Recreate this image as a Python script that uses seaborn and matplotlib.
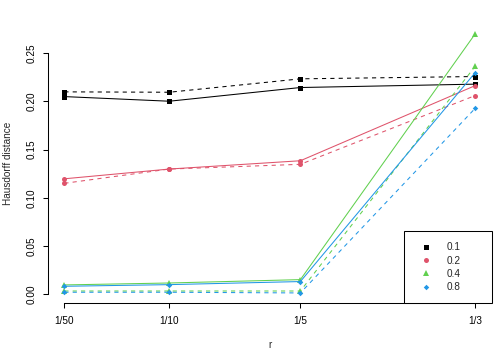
import matplotlib
matplotlib.use("Agg")
import matplotlib.pyplot as plt
from matplotlib.lines import Line2D
import seaborn as sns
import pandas as pd
import numpy as np

# ---- data ----
r_labels = ["1/50", "1/10", "1/5", "1/3"]
r_values = [1/50, 1/10, 1/5, 1/3]
groups = ["0.1", "0.2", "0.4", "0.8"]

solid_01 = [0.2049, 0.2001, 0.2143, 0.2178]
solid_02 = [0.1197, 0.1298, 0.1384, 0.2163]
solid_04 = [0.0097, 0.0117, 0.0152, 0.2700]
solid_08 = [0.0083, 0.0100, 0.0132, 0.2298]

dashed_01 = [0.2098, 0.2094, 0.2233, 0.2257]
dashed_02 = [0.1150, 0.1298, 0.1347, 0.2060]
dashed_04 = [0.0034, 0.0034, 0.0034, 0.2364]
dashed_08 = [0.0021, 0.0021, 0.0014, 0.1928]

colors = ["#000000", "#DF536B", "#61D04F", "#2297E6"]
markers = ["s", "o", "^", "D"]
msizes = [3.6, 3.6, 4.2, 2.8]

rows = []
for g, s, d in zip(groups,
                   [solid_01, solid_02, solid_04, solid_08],
                   [dashed_01, dashed_02, dashed_04, dashed_08]):
    for x, v in zip(r_values, s):
        rows.append({"r": x, "dist": v, "group": g, "kind": "solid"})
    for x, v in zip(r_values, d):
        rows.append({"r": x, "dist": v, "group": g, "kind": "dashed"})
df = pd.DataFrame(rows)

sns.set_theme(style="ticks")
plt.rcParams["font.family"] = ["Liberation Sans", "DejaVu Sans"]

fig = plt.figure(figsize=(4.98, 3.51), dpi=100)
ax = fig.add_axes([0.0962, 0.1359, 0.9873 - 0.0962, 0.9333 - 0.1359])

lw = 0.75
for g, c, m, ms in zip(groups, colors, markers, msizes):
    for kind in ["solid", "dashed"]:
        sub = df[(df.group == g) & (df.kind == kind)]
        sns.lineplot(data=sub, x="r", y="dist", color=c, marker=m,
                     markersize=ms, markeredgewidth=0, linewidth=lw,
                     dashes=False, sort=False, ax=ax, legend=False,
                     linestyle="-" if kind == "solid" else (0, (4, 4)))

# R-style limits (4% extension)
xmin, xmax = min(r_values), max(r_values)
xr = xmax - xmin
ax.set_xlim(xmin - 0.04 * xr, xmax + 0.04 * xr)
ymin, ymax = df.dist.min(), df.dist.max()
yr = ymax - ymin
ax.set_ylim(ymin - 0.04 * yr, ymax + 0.04 * yr)

ax.set_xticks(r_values)
ax.set_xticklabels(r_labels)
yt = [0.00, 0.05, 0.10, 0.15, 0.20, 0.25]
ax.set_yticks(yt)
ax.set_yticklabels([f"{v:.2f}" for v in yt], rotation=90, va="center")

for sp in ["top", "right"]:
    ax.spines[sp].set_visible(False)
ax.spines["left"].set_bounds(0, 0.25)
ax.spines["bottom"].set_bounds(xmin, xmax)
for sp in ["left", "bottom"]:
    ax.spines[sp].set_linewidth(0.75)
    ax.spines[sp].set_color("black")

ax.tick_params(axis="both", direction="out", length=3.6, width=0.75,
               color="black", labelsize=7.2, labelcolor="black")
ax.tick_params(axis="x", pad=5.5)
ax.tick_params(axis="y", pad=4.5)

ax.set_xlabel("r", fontsize=7.2, labelpad=10)
ax.set_ylabel("Hausdorff distance", fontsize=7.2, labelpad=10)
ax.grid(False)

handles = [Line2D([], [], color=c, marker=m, markersize=ms, linestyle="None",
                  markeredgewidth=0)
           for c, m, ms in zip(colors, markers, msizes)]
leg = ax.legend(handles, groups, loc="lower right",
                bbox_to_anchor=(0.8024, 0.0, 0.1976, 0.2775), mode="expand",
                borderaxespad=0, fontsize=7.2, frameon=True, fancybox=False,
                borderpad=1.1, handlelength=2.2, handletextpad=1.0,
                labelspacing=0.33)
leg.get_frame().set_edgecolor("black")
leg.get_frame().set_linewidth(0.75)
leg.get_frame().set_facecolor("white")
leg.get_frame().set_alpha(1)

fig.savefig("out.png", dpi=100)
